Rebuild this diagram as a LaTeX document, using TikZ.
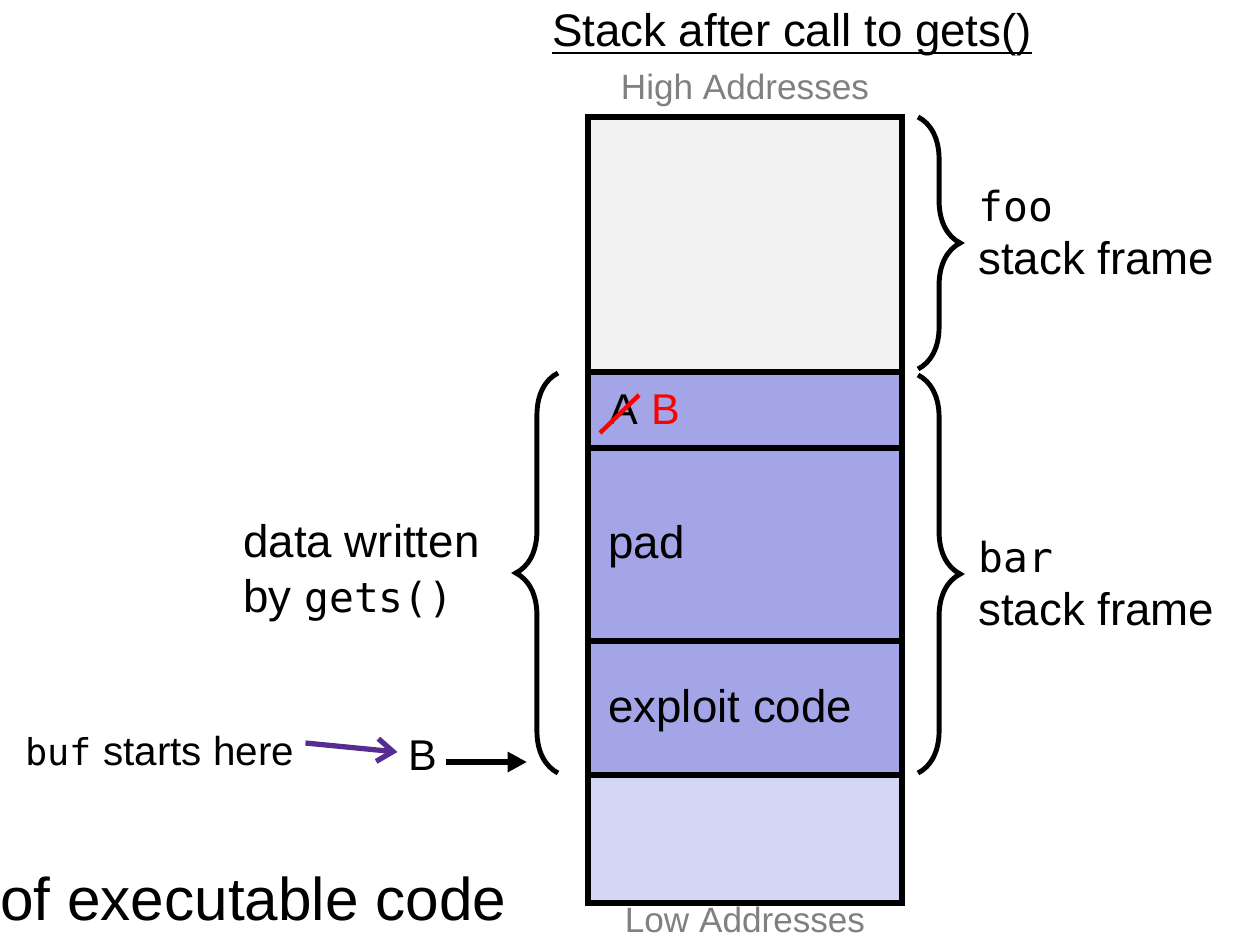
\documentclass[tikz,border=0pt]{standalone}
\usepackage{fontspec}
\setmainfont{Liberation Sans}
\setmonofont{DejaVu Sans Mono}
\usetikzlibrary{arrows.meta,decorations.pathreplacing}
\definecolor{purp}{RGB}{164,165,231}
\definecolor{lpurp}{RGB}{213,214,245}
\definecolor{lgray}{RGB}{242,242,242}
\definecolor{arrowpurple}{RGB}{85,45,145}
\definecolor{addrgray}{RGB}{128,128,128}
\newcommand{\mainsz}{\fontsize{26}{31}\selectfont}
\newcommand{\monosz}{\fontsize{23.5}{28}\selectfont\ttfamily}
\begin{document}
\begin{tikzpicture}[x=0.02cm,y=-0.02cm,
  lbl/.style={inner sep=0pt, anchor=base west, font=\mainsz},
  addr/.style={inner sep=0pt, anchor=base, text=addrgray, font=\fontsize{20}{24}\selectfont},
  boxline/.style={line width=3pt},
  bracestyle/.style={decorate, line width=2.8pt, decoration={brace, amplitude=24pt}},
]
\useasboundingbox (0,0) rectangle (1234,939);

% title
\node[inner sep=0pt, anchor=base, font=\fontsize{26}{31}\selectfont] (title) at (792,47) {Stack after call to gets()};
\draw[line width=1.2pt] ([yshift=-3.5pt]title.base west) -- ([yshift=-3.5pt]title.base east);
\node[addr] (high) at (745,100) {High Addresses};
\node[addr, text depth=0pt] (low) at (745,932) {Low Addresses};

% stack cells
\fill[lgray] (588,117) rectangle (902,372);
\fill[purp] (588,372) rectangle (902,775);
\fill[lpurp] (588,775) rectangle (902,903);
\draw[boxline] (588,372) -- (902,372);
\draw[boxline] (588,448) -- (902,448);
\draw[boxline] (588,641) -- (902,641);
\draw[boxline] (588,775) -- (902,775);
\draw[boxline] (588,117) rectangle (902,903);

% cell texts
\node[inner sep=0pt, anchor=base west, font=\fontsize{24.5}{29}\selectfont] (a) at (609,424) {A};
\node[inner sep=0pt, anchor=base west, font=\fontsize{24.5}{29}\selectfont, text=red] (bred) at (651,424) {B};
\draw[red, line width=2.5pt] (600,433) -- (639,395);
\node[lbl] (pad) at (608,558) {pad};
\node[lbl] (exploit) at (608,722) {exploit code};

% right braces
\draw[bracestyle] (918,117) -- (918,369);
\draw[bracestyle] (918,375) -- (918,773);
\node[inner sep=0pt, anchor=base west, font=\monosz] (foo) at (978,222) {foo};
\node[lbl] (foosf) at (978,275) {stack frame};
\node[inner sep=0pt, anchor=base west, font=\monosz] (bar) at (978,572) {bar};
\node[lbl] (barsf) at (978,625) {stack frame};

% left brace
\draw[bracestyle] (558,773) -- (558,373);
\node[lbl] (data1) at (243,557) {data written};
\node[lbl] (data2) at (243,612) {by {\monosz gets()}};

% buf starts here
\node[inner sep=0pt, anchor=base west, font=\fontsize{23}{28}\selectfont] (buf) at (25,765) {{\fontsize{21}{26}\selectfont\ttfamily buf} starts here};
\node[inner sep=0pt, anchor=base west, font=\fontsize{24.5}{29}\selectfont] (bblack) at (408,770) {B};
\coordinate (bracebot) at (527,762);
\coordinate (pstart) at (308,743);
\coordinate (pend) at (398,752);
\draw[arrowpurple, line width=3pt, -{Straight Barb[length=9pt,width=13pt,line width=3pt]}] (buf.east |- pstart) ++(11,0) -- ([xshift=-6pt]bblack.west |- pend);
\draw[line width=3pt, -{Triangle[length=11pt,width=11pt]}] ([xshift=5pt]bblack.east |- bracebot) -- (bracebot);

% bottom text
\node[inner sep=0pt, anchor=base west, font=\fontsize{34.3}{40}\selectfont] (exec) at (0,920) {of executable code};
\end{tikzpicture}
\end{document}
